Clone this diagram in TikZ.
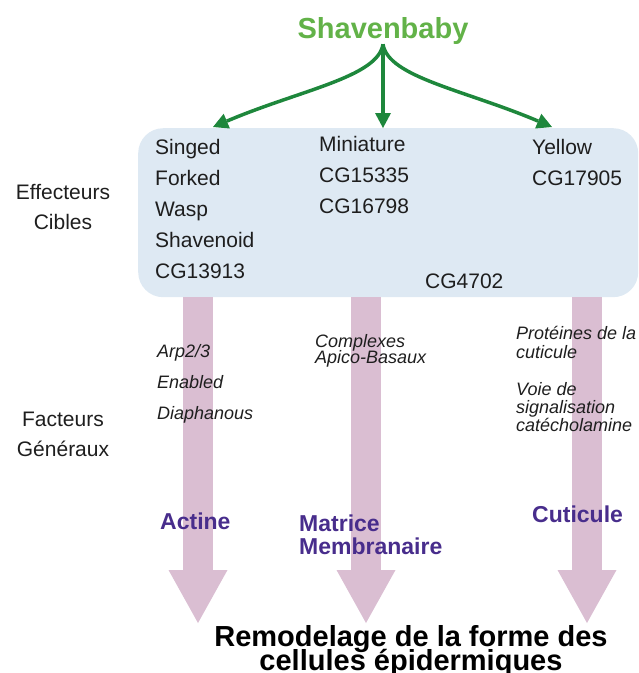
\documentclass[tikz,border=0pt]{standalone}
\usepackage{fontspec}
\setmainfont{Liberation Sans}
\usetikzlibrary{positioning}
\usetikzlibrary{calc}
\usetikzlibrary{arrows.meta}
\definecolor{svbgreen}{RGB}{98,178,72}
\definecolor{arrowgreen}{RGB}{30,135,60}
\definecolor{boxblue}{RGB}{222,233,243}
\definecolor{waypink}{RGB}{218,190,210}
\definecolor{procpurple}{RGB}{72,45,140}
\definecolor{txtgray}{RGB}{30,30,30}
\lineskiplimit=-20pt

\begin{document}
\begin{tikzpicture}[x=1pt, y=-1pt,
    gene/.style={inner sep=0, align=left, anchor=north west, text=txtgray, font=\fontsize{21}{31}\selectfont},
    side/.style={inner sep=0, align=center, anchor=north, text=txtgray, font=\fontsize{21}{30}\selectfont},
    fact/.style={inner sep=0, align=left, anchor=north west, text=txtgray, font=\fontsize{18}{31}\selectfont\itshape},
    proc/.style={inner sep=0, align=left, anchor=north west, text=procpurple, font=\fontsize{23}{23}\selectfont\bfseries},
    svb/.style={-{Triangle[length=15pt,width=16pt,line width=0pt]}, line width=3.5pt, arrowgreen},
    way/.style={-{Triangle[length=53pt,width=59pt,line width=0pt]}, line width=30pt, waypink}]
            \useasboundingbox (0,0) rectangle (639,673);
            % box of target effectors
            \node[fill=boxblue, rounded corners=25pt, minimum width=500pt, minimum height=169pt, inner sep=0, anchor=north west] (box) at (138,128) {};
            \node[inner sep=0, anchor=base, text=svbgreen, font=\fontsize{29}{29}\selectfont\bfseries] (svb) at (383,38) {Shavenbaby};

            \coordinate (tipL) at (213,127);
            \coordinate (tipM) at (383,128);
            \coordinate (tipR) at (552,127);
            \draw[svb] (svb.south) .. controls +(-5,33) and +(87,-37) .. (tipL);
            \draw[svb] (svb.south) -- (tipM);
            \draw[svb] (svb.south) .. controls +(5,33) and +(-87,-37) .. (tipR);

            \coordinate (endA) at (198,623);
            \coordinate (endM) at (366,623);
            \coordinate (endC) at (587,623);
            \draw[way] (box.south -| endA) -- (endA);
            \draw[way] (box.south -| endM) -- (endM);
            \draw[way] (box.south -| endC) -- (endC);

            \node[side] (eff) at (63,184) {Effecteurs\\Cibles};
            \node[side] (fac) at (63,412) {Facteurs\\Généraux};

            \node[gene] (colA) at (155,139) {Singed\\Forked\\Wasp\\Shavenoid\\CG13913};
            \node[gene] (colM) at (319,136) {Miniature\\CG15335\\CG16798};
            \node[gene] (colC) at (532,139) {Yellow\\CG17905};
            \node[gene] (cg) at (425,274) {CG4702};

            \node[fact] (actf) at (157,344) {Arp2/3\\Enabled\\Diaphanous};
            \node[fact, font=\fontsize{18}{16}\selectfont\itshape] (memf) at (315,334) {Complexes\\Apico-Basaux};
            \node[fact, font=\fontsize{18}{19}\selectfont\itshape] (cutf) at (516,326) {Protéines de la\\cuticule};
            \node[fact, font=\fontsize{18}{18}\selectfont\itshape] (catf) at (516,382) {Voie de\\signalisation\\catécholamine};

            \node[proc] (act) at (160,513) {Actine};
            \node[proc] (mat) at (299,515) {Matrice\\Membranaire};
            \node[proc] (cut) at (532,506) {Cuticule};

            \node[inner sep=0, anchor=north, align=center, font=\fontsize{29}{24}\selectfont\bfseries] (remod) at (411,625) {Remodelage de la forme des\\cellules épidermiques};
\end{tikzpicture}
\end{document}
